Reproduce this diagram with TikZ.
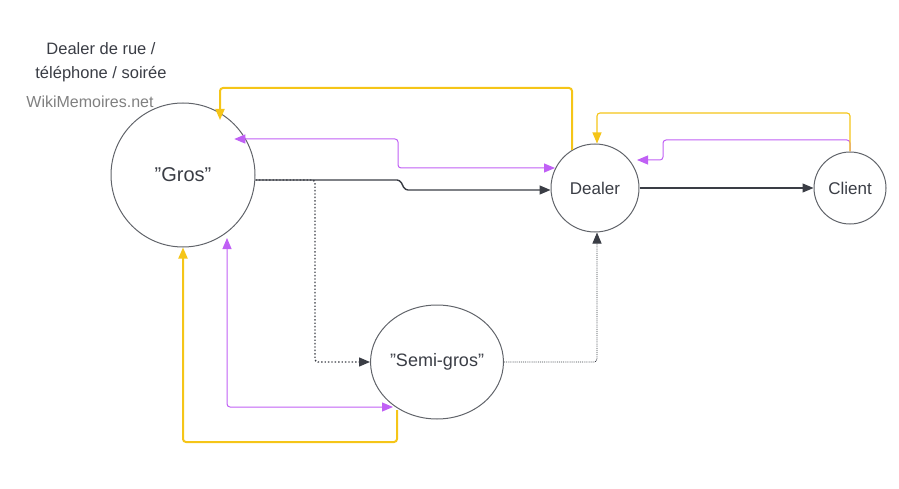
\documentclass[tikz,border=0pt]{standalone}
\usepackage{fontspec}
\setmainfont{Liberation Sans}
\usetikzlibrary{arrows.meta,shapes.geometric}
\definecolor{yel}{HTML}{F5C518}
\definecolor{pur}{HTML}{C060F5}
\definecolor{dk}{HTML}{3A3D45}
\newcommand{\qq}{{\char34}}
\begin{document}
\begin{tikzpicture}[x=1pt,y=-1pt,
  circ/.style={draw=dk!80,line width=1pt,circle,inner sep=0pt,text=dk},
  tip/.style={-{Triangle[length=11pt,width=9pt]}},
  tips/.style={{Triangle[length=11pt,width=9pt]}-{Triangle[length=11pt,width=9pt]}},
  yl/.style={draw=yel,line width=2pt,rounded corners=3pt},
  pl/.style={draw=pur,line width=1pt,rounded corners=3pt},
  bl/.style={draw=dk,line width=1.4pt,rounded corners=3pt}]
\useasboundingbox (0,0) rectangle (899,489);
\node[circ,minimum size=144pt,font=\fontsize{20}{22}\selectfont] (G) at (183,175) {\qq Gros\qq};
\node[circ,minimum size=88pt,font=\fontsize{17}{20}\selectfont] (D) at (595,188) {Dealer};
\node[circ,minimum size=72pt,font=\fontsize{17}{20}\selectfont] (C) at (850,188) {Client};
\node[draw=dk!80,line width=1pt,ellipse,minimum width=122pt,minimum height=114pt,inner sep=0pt,text=dk,font=\fontsize{18}{20}\selectfont] (S) at (437,362) {\qq Semi-gros\qq};
\node[text=dk,align=center,font=\fontsize{16.5}{24}\selectfont] (T) at (101,62) {Dealer de rue /\\téléphone / soirée};
\node[text=gray,font=\fontsize{16}{18}\selectfont] (W) at (90,102) {WikiMemoires.net};
% black
\draw[bl,tip] (G.east|-0,180) -- (400,180) -- (405,190) -- (D.west|-0,190);
\draw[bl,dotted,tip] (G.east|-0,180) -- (315,180) -- (315,362) -- (S.west);
\draw[draw=dk,densely dotted,line width=0.9pt,rounded corners=3pt,tip] (S.east) -- (597,362) -- (D.south-|597,0);
\draw[draw=dk,line width=1.1pt,tip] (D.east) -- (C.west);
% purple
\draw[pl,tips] (G.north east|-0,139) -- (398,139) -- (398,168) -- (555,168) coordinate (d1);
\draw[pl,tip] (C.north) -- (850,140) -- (663,140) -- (663,160) -- (637,160) coordinate (d2);
\draw[pl,tips] (227,238) coordinate (g1) -- (227,407) -- (393,407) coordinate (s1);
% yellow
\draw[yl,line width=1.1pt,tip] (C.north) -- (850,113) -- (597,113) -- (D.north-|597,0);
\draw[yl,tip] (572,150) coordinate (d3) -- (572,88) -- (220,88) -- (220,120) coordinate (g2);
\draw[yl,tip] (397,410) coordinate (s2) -- (397,442) -- (183,442) -- (G.south);
\end{tikzpicture}
\end{document}
